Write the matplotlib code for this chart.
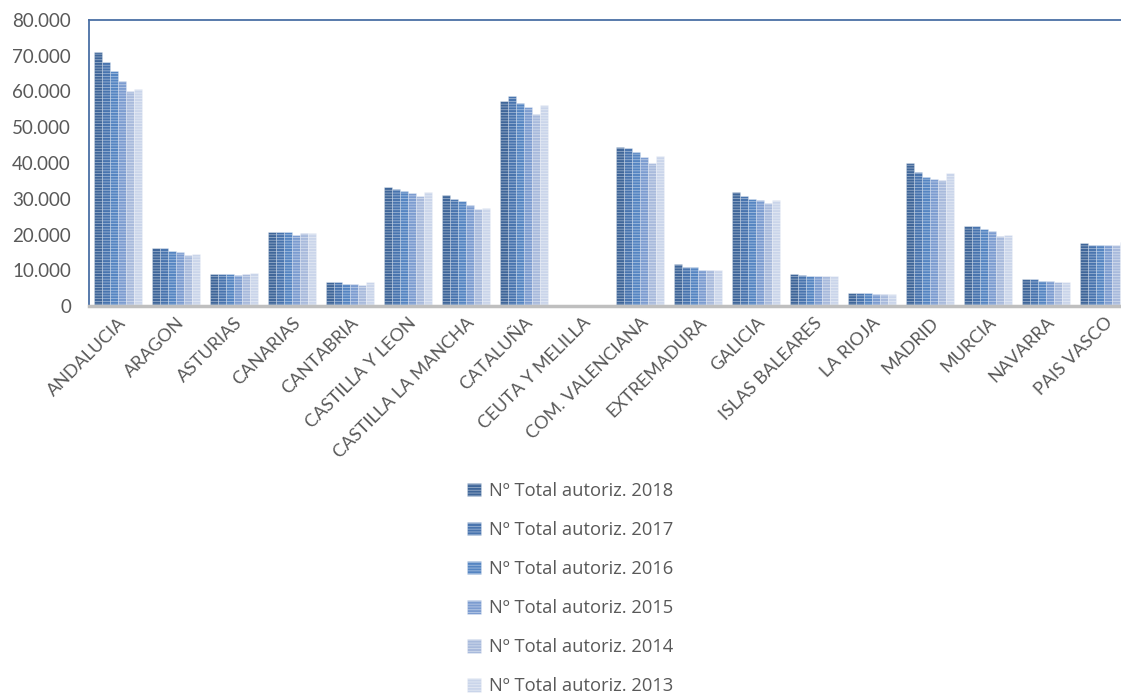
import numpy as np
import matplotlib.pyplot as plt

plt.rcParams['font.family'] = ['Lato', 'DejaVu Sans']
plt.rcParams['hatch.linewidth'] = 0.6

# Data
regions = ["ANDALUCIA", "ARAGON", "ASTURIAS", "CANARIAS", "CANTABRIA",
           "CASTILLA Y LEON", "CASTILLA LA MANCHA", "CATALUÑA", "CEUTA Y MELILLA",
           "COM. VALENCIANA", "EXTREMADURA", "GALICIA", "ISLAS BALEARES",
           "LA RIOJA", "MADRID", "MURCIA", "NAVARRA", "PAIS VASCO"]
years = ["2018", "2017", "2016", "2015", "2014", "2013"]

v2018 = [71000, 16100, 9000, 20600, 6600, 33400, 31100, 57400, 0, 44600, 11700, 31800, 9000, 3700, 40100, 22500, 7500, 17500]
v2017 = [68200, 16100, 9000, 20600, 6600, 32600, 30000, 58700, 0, 44300, 10800, 30700, 8600, 3700, 37500, 22500, 7500, 17200]
v2016 = [65800, 15400, 9000, 20600, 6200, 32300, 29300, 56700, 0, 43200, 10800, 29900, 8300, 3700, 36000, 21400, 7100, 17200]
v2015 = [62900, 15000, 8600, 19900, 6200, 31500, 28200, 55600, 0, 41600, 10100, 29600, 8300, 3300, 35600, 21000, 7100, 17200]
v2014 = [60200, 14300, 9000, 20300, 6000, 30800, 27000, 53700, 0, 40100, 10100, 28800, 8300, 3300, 35200, 19500, 6700, 17200]
v2013 = [60600, 14600, 9300, 20300, 6600, 31800, 27300, 56300, 0, 42000, 10100, 29600, 8300, 3300, 37100, 19900, 6700, 18000]
series = [v2018, v2017, v2016, v2015, v2014, v2013]

colors = ['#3f6699', '#4874ae', '#5585c2', '#7c9cd0', '#a8badc', '#cad5ea']

fig = plt.figure(figsize=(11.21, 6.95), dpi=100)
# axes run past the right edge, like the cropped original
ax = fig.add_axes([89 / 1121, 1 - 306 / 695, 1044 / 1121, 286 / 695])

x = np.arange(len(regions))
w = 0.138
for i, (vals, c) in enumerate(zip(series, colors)):
    ax.bar(x + (i - 2.5) * w, vals, width=w * 0.92, color=c,
           edgecolor=(1, 1, 1, 0.45), linewidth=0.4, hatch='------',
           label="Nº Total autoriz. " + years[i])

ax.set_xlim(-0.5, len(regions) - 0.5)
ax.set_ylim(0, 80000)
ax.set_yticks(range(0, 80001, 10000))
ax.set_yticklabels(["0" if t == 0 else f"{t // 1000}.000" for t in range(0, 80001, 10000)])
ax.set_xticks(x)
ax.set_xticklabels(regions, rotation=45, ha='right', rotation_mode='anchor')
ax.tick_params(axis='both', length=0, colors='#595959')
ax.tick_params(axis='y', pad=13, labelsize=13.5)
ax.tick_params(axis='x', pad=6, labelsize=13)

for s in ['left', 'top']:
    ax.spines[s].set_color('#4a6fa5')
    ax.spines[s].set_linewidth(1.3)
ax.spines['right'].set_visible(False)
ax.spines['bottom'].set_color('#bfbfbf')
ax.spines['bottom'].set_linewidth(2.5)

fig.legend(loc='upper left', bbox_to_anchor=(467 / 1121, 1 - 482 / 695),
           frameon=False, ncol=1, prop={'family': ['Open Sans', 'DejaVu Sans'], 'size': 13.2},
           labelcolor='#595959',
           handlelength=0.75, handleheight=0.75, handletextpad=0.45,
           labelspacing=1.15, borderaxespad=0, borderpad=0)

plt.savefig("out.png", dpi=100)
plt.close()
